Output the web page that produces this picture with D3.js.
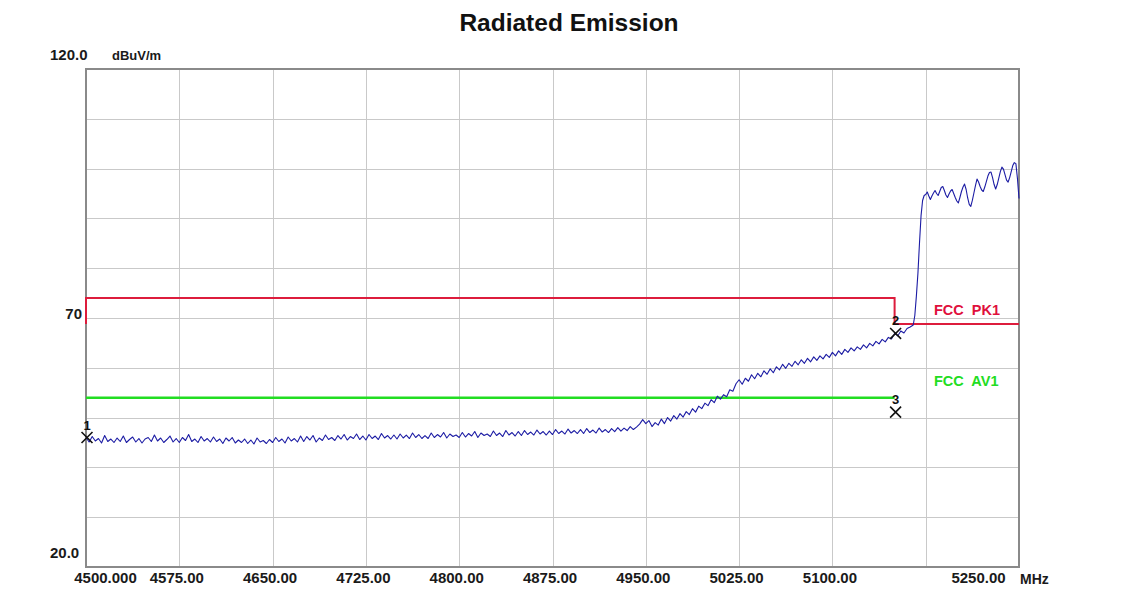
<!DOCTYPE html>
<html>
<head>
<meta charset="utf-8">
<script src="https://cdn.jsdelivr.net/npm/d3@7"></script>
<style>
  html, body { margin: 0; padding: 0; background: #ffffff; }
  svg { display: block; }
  text { font-family: "Liberation Sans", Arial, sans-serif; }
</style>
</head>
<body>
<svg id="chart" width="1132" height="589"></svg>
<script>
// ---- Sweep data (dBuV/m) ----
// Main sweep: 4500 MHz upward in 2.5 MHz steps
const sweepStart = 4500;
const sweepStep = 2.5;
const sweepLevels = [
  46.0, 45.1, 46.2, 45.3, 45.8, 44.9, 46.4, 45.2, 45.7, 45.0,
  45.9, 45.2, 46.3, 45.0, 45.6, 46.1, 45.1, 45.8, 44.9, 45.7,
  46.0, 45.2, 46.5, 45.3, 45.9, 45.0, 45.6, 46.3, 45.1, 45.8,
  45.0, 46.0, 45.4, 46.6, 45.2, 45.7, 45.0, 46.2, 45.3, 45.8,
  45.1, 46.1, 45.2, 45.7, 44.8, 45.9, 45.3, 46.0, 44.9, 45.5,
  45.0, 45.7, 44.8, 45.5, 44.7, 45.9, 45.1, 45.4, 44.8, 45.6,
  45.0, 46.0, 45.2, 45.7, 44.9, 46.1, 45.3, 45.8, 45.1, 46.3,
  45.2, 46.2, 45.5, 46.4, 45.1, 45.9, 45.4, 46.5, 45.6, 46.0,
  45.4, 46.4, 45.7, 46.6, 45.5, 46.2, 45.8, 46.7, 45.6, 46.3,
  45.5, 46.6, 45.8, 46.3, 45.6, 46.8, 45.9, 46.4, 45.7, 46.5,
  45.7, 46.7, 45.9, 46.5, 45.8, 46.9, 46.0, 46.6, 45.8, 46.4,
  45.8, 46.9, 46.0, 46.6, 46.1, 47.0, 45.9, 46.7, 46.2, 46.5,
  46.0, 47.0, 46.1, 46.8, 46.3, 47.2, 46.0, 46.9, 46.4, 46.7,
  46.2, 47.3, 46.4, 46.9, 46.2, 47.4, 46.5, 47.0, 46.3, 47.2,
  46.4, 47.4, 46.6, 47.1, 46.5, 47.5, 46.7, 47.2, 46.5, 47.3,
  46.6, 47.6, 46.8, 47.3, 46.7, 47.7, 46.9, 47.4, 46.8, 47.6,
  46.8, 47.8, 47.0, 47.5, 46.9, 47.9, 47.1, 47.6, 47.0, 47.8,
  47.2, 48.0, 47.3, 47.9, 47.4, 48.2, 47.6, 48.1, 48.7, 49.6,
  48.8, 49.4, 48.2, 49.0, 48.5, 49.7, 48.8, 50.0, 49.3, 50.4,
  49.7, 50.8, 50.1, 51.2, 50.6, 51.8, 51.1, 52.3, 51.8, 52.9,
  52.4, 53.6, 53.0, 54.3, 53.7, 54.6, 54.2, 55.6, 55.3, 56.8,
  57.6, 56.7, 57.9, 57.3, 58.6, 57.8, 58.9, 58.2, 59.4, 58.7,
  59.8, 59.0, 60.2, 59.6, 60.7, 59.9, 60.9, 60.3, 61.3, 60.6,
  61.6, 60.9, 61.9, 61.2, 62.2, 61.5, 62.4, 61.8, 62.7, 62.1,
  63.1, 62.4, 63.4, 62.7, 63.7, 63.1, 64.0, 63.4, 64.2, 63.7,
  64.6, 64.0, 64.9, 64.4, 65.3, 64.8, 65.7, 65.2, 66.1, 65.8,
  66.9, 66.4, 67.4, 67.0, 67.9, 68.2, 68.6
];
// Band edge and in-band part: finer 1.25 MHz steps
const tailStart = 5166.25;
const tailStep = 1.25;
const tailLevels = [
  70.5, 74.4, 79.0, 85.0, 90.5, 93.6, 94.6, 94.8, 95.3, 94.5,
  93.8, 94.5, 95.1, 95.6, 95.0, 94.6, 95.4, 96.2, 96.4, 95.6,
  94.7, 94.2, 94.9, 95.5, 95.8, 95.0, 94.2, 93.5, 93.1, 94.2,
  95.4, 96.3, 96.9, 95.8, 94.1, 92.8, 92.4, 93.6, 95.1, 96.6,
  97.9, 97.3, 96.4, 95.7, 95.4, 96.3, 97.4, 98.5, 99.2, 99.3,
  98.2, 96.8, 95.9, 96.8, 98.1, 99.4, 100.3, 99.9, 98.8, 97.7,
  97.3, 98.2, 99.4, 100.6, 101.2, 101.0, 98.0, 94.0
];

// ---- Limit lines (MHz, dBuV/m) ----
const peakLimitFreq  = [4500, 4500, 5150, 5150, 5250];
const peakLimitLevel = [68.8, 74.0, 74.0, 68.8, 68.8];
const avgLimitFreq   = [4500, 5150];
const avgLimitLevel  = [54.0, 54.0];

// ---- Markers ----
const markerIds    = ["1", "2", "3"];
const markerFreq   = [4500, 5150, 5150];
const markerLevel  = [46.0, 66.9, 51.1];

// ---- Axis ticks ----
const xTickValues = [4500, 4575, 4650, 4725, 4800, 4875, 4950, 5025, 5100, 5175, 5250];
const xTickLabels = ["4500.000", "4575.00", "4650.00", "4725.00", "4800.00", "4875.00",
                     "4950.00", "5025.00", "5100.00", "", "5250.00"];
const yGridValues = [30, 40, 50, 60, 70, 80, 90, 100, 110];
const yTickValues = [120, 70, 20];
const yTickLabels = ["120.0", "70", "20.0"];

// ---- Layout ----
const svg = d3.select("#chart");
const plot = { left: 86, right: 1019, top: 69, bottom: 567 };

const x = d3.scaleLinear().domain([4500, 5250]).range([plot.left, plot.right]);
const y = d3.scaleLinear().domain([20, 120]).range([plot.bottom, plot.top]);

// Title
svg.append("text")
  .attr("x", 569).attr("y", 31)
  .attr("text-anchor", "middle")
  .attr("font-size", 24.5).attr("font-weight", "bold")
  .attr("fill", "#111")
  .text("Radiated Emission");

// Grid
const grid = svg.append("g").attr("stroke", "#c9c9c9").attr("stroke-width", 1);
grid.selectAll("line.v")
  .data(xTickValues.slice(1, -1))
  .join("line")
  .attr("x1", d => Math.round(x(d)) + 0.5).attr("x2", d => Math.round(x(d)) + 0.5)
  .attr("y1", plot.top).attr("y2", plot.bottom);
grid.selectAll("line.h")
  .data(yGridValues)
  .join("line")
  .attr("y1", d => Math.round(y(d)) + 0.5).attr("y2", d => Math.round(y(d)) + 0.5)
  .attr("x1", plot.left).attr("x2", plot.right);

// Frame
svg.append("rect")
  .attr("x", plot.left).attr("y", plot.top)
  .attr("width", plot.right - plot.left).attr("height", plot.bottom - plot.top)
  .attr("fill", "none").attr("stroke", "#8a8a8a").attr("stroke-width", 2);

// X axis labels
const xAxis = d3.axisBottom(x)
  .tickValues(xTickValues)
  .tickFormat((d, i) => xTickLabels[i])
  .tickSize(0)
  .tickPadding(5);
const xAxisG = svg.append("g")
  .attr("transform", `translate(0,${plot.bottom})`)
  .call(xAxis);
xAxisG.select(".domain").remove();
xAxisG.selectAll("text")
  .attr("font-family", "'Liberation Sans', Arial, sans-serif")
  .attr("font-size", 15).attr("font-weight", "bold")
  .attr("fill", "#1a1a1a")
  .attr("dx", (d, i) => i === 0 ? 19 : (i === xTickValues.length - 1 ? -41 : -3));

svg.append("text")
  .attr("x", plot.right + 1).attr("y", 584)
  .attr("font-size", 14).attr("font-weight", "bold")
  .attr("fill", "#1a1a1a")
  .text("MHz");

// Y axis labels
svg.selectAll("text.ylab")
  .data(yTickValues)
  .join("text")
  .attr("class", "ylab")
  .attr("x", (d, i) => i === 1 ? 82 : 50)
  .attr("y", (d, i) => i === 1 ? y(d) + 0.5 : y(d) - 9)
  .attr("text-anchor", (d, i) => i === 1 ? "end" : "start")
  .attr("font-size", 15).attr("font-weight", "bold")
  .attr("fill", "#1a1a1a")
  .text((d, i) => yTickLabels[i]);

svg.append("text")
  .attr("x", 112).attr("y", y(120) - 9)
  .attr("font-size", 13).attr("font-weight", "bold")
  .attr("fill", "#1a1a1a")
  .text("dBuV/m");

// Limit lines
const line = d3.line().x(d => x(d[0])).y(d => y(d[1]));

svg.append("path")
  .datum(avgLimitFreq.map((f, i) => [f, avgLimitLevel[i]]))
  .attr("d", line)
  .attr("fill", "none").attr("stroke", "#22dd22").attr("stroke-width", 2.5);

svg.append("path")
  .datum(peakLimitFreq.map((f, i) => [f, peakLimitLevel[i]]))
  .attr("d", line)
  .attr("fill", "none").attr("stroke", "#dd1c3c").attr("stroke-width", 2);

// Legend texts for the limit lines
svg.append("text")
  .attr("x", 934).attr("y", 315)
  .attr("font-size", 14.5).attr("font-weight", "bold")
  .attr("fill", "#e0103c")
  .style("white-space", "pre")
  .text("FCC  PK1");
svg.append("text")
  .attr("x", 934).attr("y", 386)
  .attr("font-size", 14.5).attr("font-weight", "bold")
  .attr("fill", "#22dd22")
  .style("white-space", "pre")
  .text("FCC  AV1");

// Trace
const trace = sweepLevels.map((v, i) => [sweepStart + i * sweepStep, v])
  .concat(tailLevels.map((v, i) => [tailStart + i * tailStep, v]));

svg.append("path")
  .datum(trace)
  .attr("d", line)
  .attr("fill", "none")
  .attr("stroke", "#1c1ca4")
  .attr("stroke-width", 1.1)
  .attr("stroke-linejoin", "round");

// Markers
const markerSymbol = d3.symbol().type(d3.symbolTimes).size(80);
const markers = svg.selectAll("g.marker")
  .data(markerIds.map((id, i) => ({ id, f: markerFreq[i], v: markerLevel[i] })))
  .join("g")
  .attr("class", "marker")
  .attr("transform", d => `translate(${x(d.f) + 1},${y(d.v)})`);
markers.append("path")
  .attr("d", markerSymbol)
  .attr("fill", "none").attr("stroke", "#111").attr("stroke-width", 1.6);
markers.append("text")
  .attr("x", 0).attr("y", -8)
  .attr("text-anchor", "middle")
  .attr("font-size", 13).attr("font-weight", "bold")
  .attr("fill", "#111")
  .text(d => d.id);
</script>
</body>
</html>
